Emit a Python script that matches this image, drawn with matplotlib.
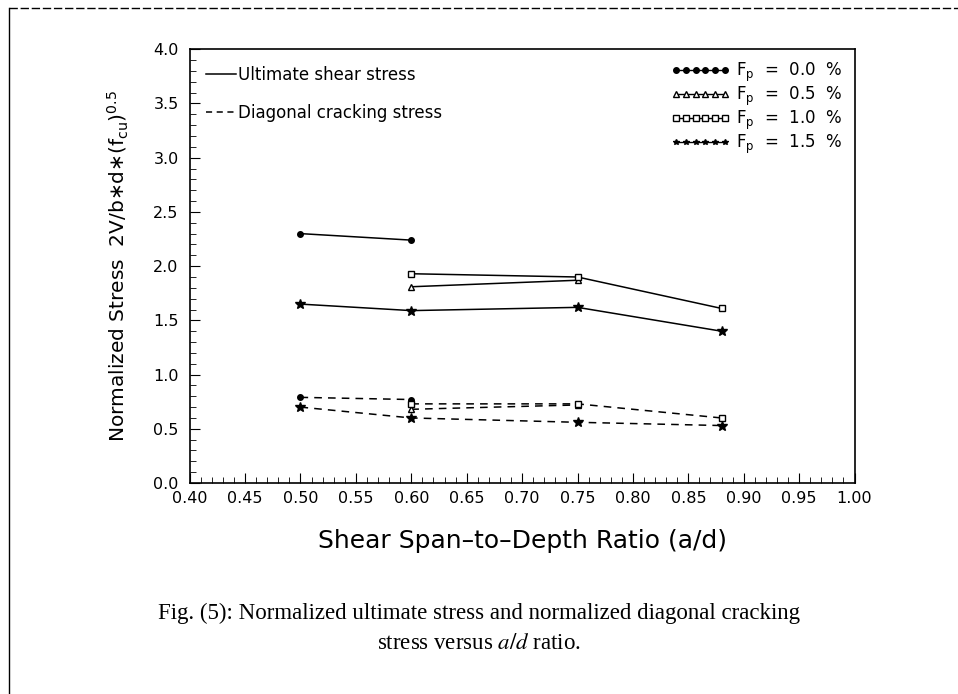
import matplotlib.pyplot as plt
from matplotlib.lines import Line2D
from matplotlib.ticker import MultipleLocator

# shear span-to-depth ratio of each series
ad_00 = [0.50, 0.60]
ad_05 = [0.60, 0.75]
ad_10 = [0.60, 0.75, 0.88]
ad_15 = [0.50, 0.60, 0.75, 0.88]

# normalized ultimate shear stress
ult_00 = [2.30, 2.24]
ult_05 = [1.81, 1.87]
ult_10 = [1.93, 1.90, 1.61]
ult_15 = [1.65, 1.59, 1.62, 1.40]

# normalized diagonal cracking stress
crk_00 = [0.79, 0.77]
crk_05 = [0.68, 0.72]
crk_10 = [0.73, 0.73, 0.60]
crk_15 = [0.70, 0.60, 0.56, 0.53]

fp_labels = ['0.0', '0.5', '1.0', '1.5']
markers = ['o', '^', 's', '*']
msizes = [4, 5, 5, 7]

series = [(ad_00, ult_00, crk_00), (ad_05, ult_05, crk_05),
          (ad_10, ult_10, crk_10), (ad_15, ult_15, crk_15)]

fig = plt.figure(figsize=(9.58, 6.94), dpi=100)
ax = fig.add_axes([0.198, 0.304, 0.694, 0.625])

for (x, u, c), m, ms in zip(series, markers, msizes):
    fc = 'white' if m in '^s' else 'k'
    ax.plot(x, u, '-', color='k', lw=1.1, marker=m, ms=ms, mfc=fc, mec='k')
    ax.plot(x, c, '--', color='k', lw=1.1, marker=m, ms=ms, mfc=fc, mec='k', dashes=(5, 4))

ax.set_xlim(0.40, 1.00)
ax.set_ylim(0.0, 4.0)
ax.xaxis.set_major_locator(MultipleLocator(0.05))
ax.xaxis.set_minor_locator(MultipleLocator(0.01))
ax.yaxis.set_major_locator(MultipleLocator(0.5))
ax.yaxis.set_minor_locator(MultipleLocator(0.1))
ax.xaxis.set_major_formatter(plt.FuncFormatter(lambda v, p: '%.2f' % v))
ax.yaxis.set_major_formatter(plt.FuncFormatter(lambda v, p: '%.1f' % v))
ax.tick_params(which='both', direction='in', top=False, right=False, labelsize=11.5)
ax.tick_params(which='major', length=7)
ax.tick_params(which='minor', length=4)
ax.tick_params(axis='x', pad=6)
ax.tick_params(axis='y', pad=8)
for s in ax.spines.values():
    s.set_linewidth(1.2)

ax.set_xlabel('Shear Span\u2013to\u2013Depth Ratio (a/d)', fontsize=18, labelpad=16)
ax.set_ylabel(r'Normalized Stress  2V/b$\ast$d$\ast$(f$_{\mathrm{cu}}$)$^{0.5}$', fontsize=14.5, labelpad=16)

h1 = [Line2D([], [], color='k', lw=1.1, ls='-'),
      Line2D([], [], color='k', lw=1.1, ls='--', dashes=(4, 3))]
leg1 = ax.legend(h1, ['Ultimate shear stress', 'Diagonal cracking stress'], loc='upper left',
                 frameon=False, fontsize=12, handlelength=1.8, handletextpad=0.1,
                 labelspacing=1.2, borderaxespad=0.6)
ax.add_artist(leg1)

h2 = [Line2D([], [], color='k', lw=1.0, marker=m, ms=4, mfc='white' if m in '^s' else 'k', mec='k')
      for m in markers]
l2 = [r'F$_\mathrm{p}$  =  %s  %%' % f for f in fp_labels]
ax.legend(h2, l2, loc='upper right', frameon=False, fontsize=12, numpoints=6,
          handlelength=3.5, handletextpad=0.4, labelspacing=0.05, borderaxespad=0.3)

# page border of the scanned figure
fig.add_artist(Line2D([0.009, 1.0], [0.988, 0.988], color='k', lw=1.0, ls='--', dashes=(6, 2)))
fig.add_artist(Line2D([0.009, 0.009], [0.0, 0.988], color='k', lw=1.0))

fig.text(0.50, 0.108, 'Fig. (5): Normalized ultimate stress and normalized diagonal cracking',
         ha='center', family='Liberation Serif', fontsize=16.5)
fig.text(0.50, 0.065, r'stress versus $\mathit{a/d}$ ratio.', ha='center',
         family='Liberation Serif', fontsize=16.5, math_fontfamily='stix')

fig.savefig('out.png', dpi=100)
